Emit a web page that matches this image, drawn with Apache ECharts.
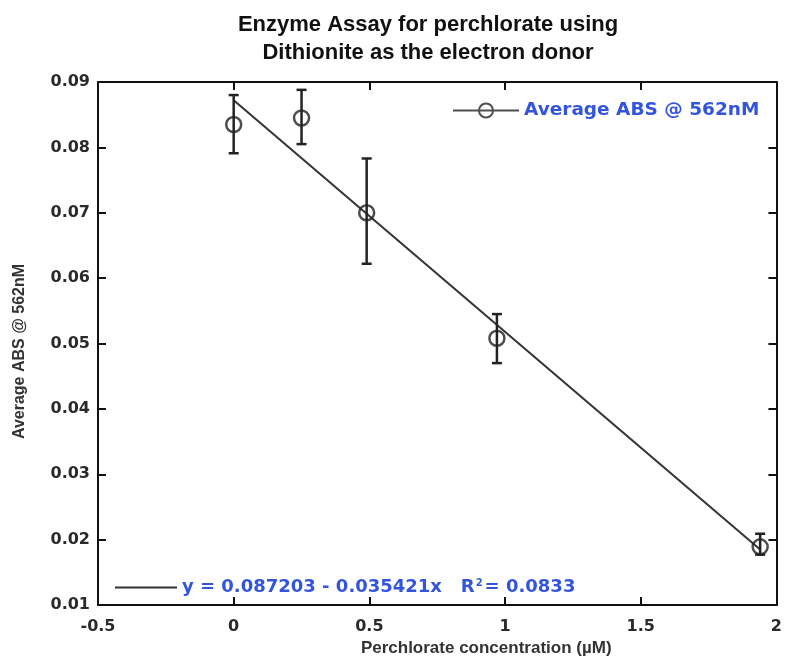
<!DOCTYPE html>
<html>
<head>
<meta charset="utf-8">
<script src="https://cdn.jsdelivr.net/npm/echarts@6/dist/echarts.min.js"></script>
<style>html,body{margin:0;padding:0;background:#fff}#c{width:785px;height:662px}</style>
</head>
<body>
<div id="c"></div>
<script>
// Data
var concentration = [0, 0.25, 0.49, 0.97, 1.94];
var absMean = [0.0835, 0.0845, 0.0700, 0.0508, 0.0189];
var absLow  = [0.0791, 0.0805, 0.0622, 0.0470, 0.0177];
var absHigh = [0.0880, 0.0888, 0.0783, 0.0545, 0.0209];
var fitX = [0, 1.94];
var fitY = [0.0872, 0.0185];
var xTicks = [-0.5, 0, 0.5, 1, 1.5, 2];
var yTicks = [0.01, 0.02, 0.03, 0.04, 0.05, 0.06, 0.07, 0.08, 0.09];
var seriesName = 'Average ABS @ 562nM';
var fitName = 'fit';
var fitEquation = 'y = 0.087203 - 0.035421x   R';
var fitR2 = '= 0.0833';

var pts = concentration.map(function (x, i) { return [x, absMean[i]]; });
var errs = concentration.map(function (x, i) { return [x, absLow[i], absHigh[i]]; });
var fitLine = fitX.map(function (x, i) { return [x, fitY[i]]; });

var tickFont = {fontFamily: 'DejaVu Sans', fontWeight: 'bold', fontSize: 16, color: '#2a2a2a'};
var frame = {show: true, onZero: false, lineStyle: {color: '#111', width: 2}};
var tick = {show: true, inside: true, length: 8, lineStyle: {color: '#111', width: 2}};

var chart = echarts.init(document.getElementById('c'));
chart.setOption({
  animation: false,
  backgroundColor: '#fff',
  title: {
    text: 'Enzyme Assay for perchlorate using\nDithionite as the electron donor',
    left: 423, top: 6, textAlign: 'center',
    textStyle: {fontFamily: 'Liberation Sans', fontWeight: 'bold', fontSize: 22, lineHeight: 28, color: '#111'}
  },
  grid: {left: 98, right: 7, top: 82, bottom: 57, containLabel: false},
  legend: [{
    data: [seriesName],
    left: 447, top: 96,
    itemWidth: 66, itemHeight: 16,
    icon: 'path://M0,8 L66,8 M26,8 A7,7 0 1,0 40,8 A7,7 0 1,0 26,8',
    itemStyle: {color: 'transparent', borderColor: '#222', borderWidth: 2},
    textStyle: {fontFamily: 'DejaVu Sans', fontWeight: 'bold', fontSize: 18.5, color: '#3355dd'}
  }, {
    data: [fitName],
    left: 110, top: 573,
    itemWidth: 62, itemHeight: 2,
    icon: 'rect',
    itemStyle: {color: '#333'},
    formatter: function () { return '{t|' + fitEquation + '}{s|2}{t|' + fitR2 + '}'; },
    textStyle: {
      fontFamily: 'DejaVu Sans', fontWeight: 'bold', fontSize: 18, color: '#3355dd',
      rich: {
        t: {fontFamily: 'DejaVu Sans', fontWeight: 'bold', fontSize: 18, color: '#3355dd'},
        s: {fontFamily: 'DejaVu Sans', fontSize: 10, color: '#3355dd', verticalAlign: 'top', padding: [0, 2, 9, 1]}
      }
    }
  }],
  xAxis: [{
    type: 'value', min: xTicks[0], max: xTicks[xTicks.length - 1], interval: 0.5,
    axisLine: frame, axisTick: tick, splitLine: {show: false},
    axisLabel: Object.assign({margin: 14}, tickFont),
    name: 'Perchlorate concentration (\u00b5M)', nameLocation: 'middle', nameGap: 35,
    nameTextStyle: {fontFamily: 'Liberation Sans', fontWeight: 'bold', fontSize: 17, color: '#333', padding: [0, 0, 0, 98]}
  }, {
    type: 'value', position: 'top', min: xTicks[0], max: xTicks[xTicks.length - 1], interval: 0.5,
    axisLine: frame, axisTick: tick, axisLabel: {show: false}, splitLine: {show: false}
  }],
  yAxis: [{
    type: 'value', min: yTicks[0], max: yTicks[yTicks.length - 1], interval: 0.01,
    axisLine: frame, axisTick: tick, splitLine: {show: false},
    axisLabel: Object.assign({margin: 8, formatter: function (v) { return v.toFixed(2); }}, tickFont),
    name: seriesName, nameLocation: 'middle', nameGap: 70, nameRotate: 90,
    nameTextStyle: {fontFamily: 'Liberation Sans', fontWeight: 'bold', fontSize: 16, color: '#333', padding: [0, 16, 0, 0]}
  }, {
    type: 'value', position: 'right', min: yTicks[0], max: yTicks[yTicks.length - 1], interval: 0.01,
    axisLine: frame, axisTick: tick, axisLabel: {show: false}, splitLine: {show: false}
  }],
  series: [{
    name: fitName, type: 'line', data: fitLine, symbol: 'none',
    lineStyle: {color: '#333', width: 2}, itemStyle: {color: '#333'}, z: 2
  }, {
    name: 'errors', type: 'custom', data: errs, z: 3,
    renderItem: function (params, api) {
      var x = api.value(0);
      var lo = api.coord([x, api.value(1)]);
      var hi = api.coord([x, api.value(2)]);
      var w = 5;
      var st = {stroke: '#222', lineWidth: 2.5};
      return {type: 'group', children: [
        {type: 'line', shape: {x1: hi[0], y1: hi[1], x2: lo[0], y2: lo[1]}, style: st},
        {type: 'line', shape: {x1: hi[0] - w, y1: hi[1], x2: hi[0] + w, y2: hi[1]}, style: st},
        {type: 'line', shape: {x1: lo[0] - w, y1: lo[1], x2: lo[0] + w, y2: lo[1]}, style: st}
      ]};
    }
  }, {
    name: seriesName, type: 'scatter', data: pts, symbol: 'circle', symbolSize: 15, z: 4,
    itemStyle: {color: 'transparent', borderColor: '#222', borderWidth: 2.5}
  }]
});
</script>
</body>
</html>
